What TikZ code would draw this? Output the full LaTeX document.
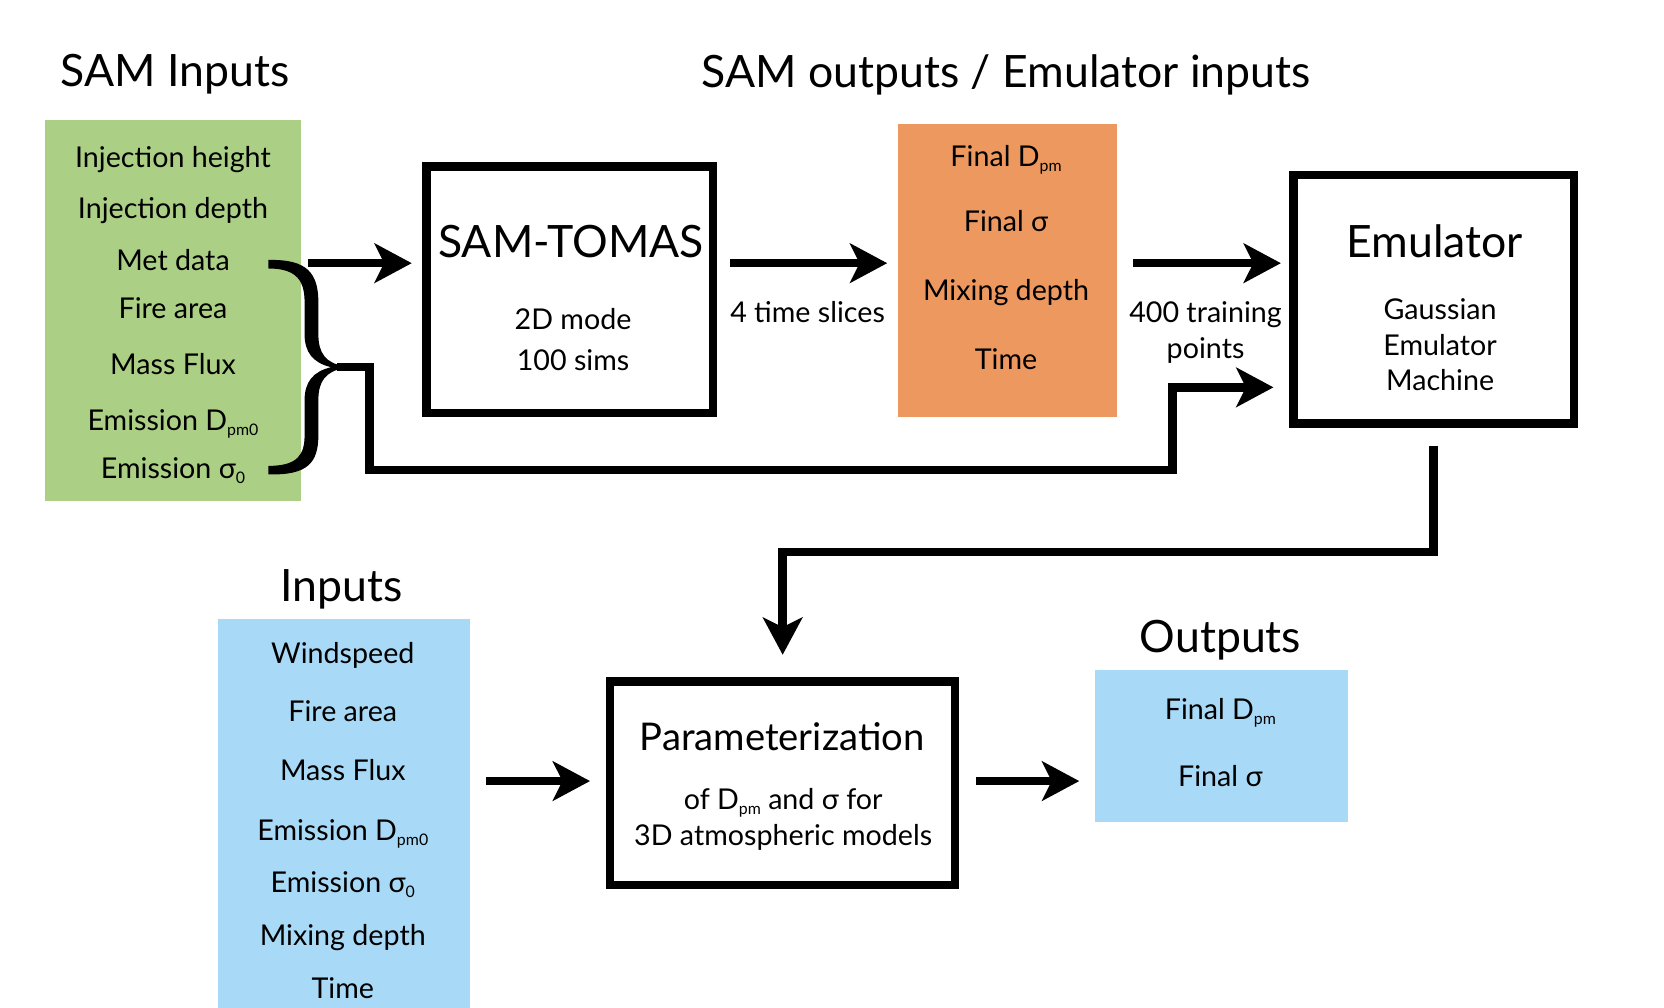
\documentclass[tikz,border=0pt]{standalone}
\usepackage{fontspec}
\setmainfont{Lato}
\usetikzlibrary{arrows.meta}
\definecolor{samgreen}{RGB}{171,207,133}
\definecolor{samorange}{RGB}{236,152,94}
\definecolor{skyblue}{RGB}{168,218,248}
\newcommand{\lowsub}[1]{\raisebox{-0.35ex}{\fontsize{15}{15}\selectfont #1}}
\begin{document}
\begin{tikzpicture}[x=1pt,y=-1pt,
  fillbox/.style={inner sep=0pt, outer sep=0pt, draw=none},
  frame/.style={draw=black, line width=8pt, inner sep=0pt, fill=white},
  item/.style={font=\fontsize{27}{30}\selectfont, anchor=mid, inner sep=0pt, yshift=-8pt},
  title/.style={font=\fontsize{42}{48}\selectfont, anchor=mid, inner sep=0pt, yshift=-12pt},
  subtitle/.style={font=\fontsize{36}{40}\selectfont, anchor=mid, inner sep=0pt, yshift=-10pt},
  flow/.style={line width=8pt, -{Stealth[length=35pt,width=37pt,inset=9pt]}},
]
\useasboundingbox[fill=white] (0,0) rectangle (1568,949);

% titles
\node[title] (tsamin) at (165,67) {SAM Inputs};
\node[title] (tsamout) at (948,68) {SAM outputs / Emulator inputs};
\node[title] (tin) at (322,552) {Inputs};
\node[title] (tout) at (1150,600) {Outputs};

% boxes
\node[fillbox, fill=samgreen, minimum width=242pt, minimum height=359pt] (green) at (163,292.5) {};
\node[frame, minimum width=270pt, minimum height=232pt] (tomas) at (537,273) {};
\node[fillbox, fill=samorange, minimum width=207pt, minimum height=276pt] (orange) at (949.5,255) {};
\node[frame, minimum width=264pt, minimum height=234pt] (emu) at (1351,282) {};
\node[fillbox, fill=skyblue, minimum width=238pt, minimum height=380pt] (inputs) at (324,773) {};
\node[frame, minimum width=325pt, minimum height=192pt] (param) at (737.5,738) {};
\node[fillbox, fill=skyblue, minimum width=238pt, minimum height=144pt] (outputs) at (1151,703) {};

% green items
\node[item] (g1) at (163,147) {Injection height};
\node[item] (g2) at (163,195) {Injection depth};
\node[item] (g3) at (163,244) {Met data};
\node[item] (g4) at (163,290) {Fire area};
\node[item] (g5) at (163,342) {Mass Flux};
\node[item] (g6) at (163,395) {Emission D\lowsub{pm0}};
\node[item] (g7) at (163,440) {Emission σ\lowsub{0}};

% SAM-TOMAS
\node[title] (tomasT) at (538,228) {SAM-TOMAS};
\node[item] (tomas1) at (540,300) {2D mode};
\node[item] (tomas2) at (540,339) {100 sims};

\node[item] (slices) at (761,293) {4 time slices};

% orange items
\node[item] (o1) at (948,146) {Final D\lowsub{pm}};
\node[item] (o2) at (948,208) {Final σ};
\node[item] (o3) at (948,273) {Mixing depth};
\node[item] (o4) at (948,338) {Time};

\node[item] (train1) at (1136,293) {400 training};
\node[item] (train2) at (1136,327) {points};

% emulator
\node[title] (emuT) at (1352,228) {Emulator};
\node[item] (emu1) at (1357,291) {Gaussian};
\node[item] (emu2) at (1357,324) {Emulator};
\node[item] (emu3) at (1357,357) {Machine};

% inputs items
\node[item] (i1) at (323,615) {Windspeed};
\node[item] (i2) at (323,669) {Fire area};
\node[item] (i3) at (323,725) {Mass Flux};
\node[item] (i4) at (323,781) {Emission D\lowsub{pm0}};
\node[item] (i5) at (323,830) {Emission σ\lowsub{0}};
\node[item] (i6) at (323,880) {Mixing depth};
\node[item] (i7) at (323,930) {Time};

% parameterization
\node[subtitle] (paramT) at (737,695) {Parameterization};
\node[item] (param1) at (738,752) {of D\lowsub{pm} and σ for};
\node[item] (param2) at (738,786) {3D atmospheric models};

% outputs
\node[item] (out1) at (1150,667) {Final D\lowsub{pm}};
\node[item] (out2) at (1150,731) {Final σ};

% brace
\fill[black] (253,245) .. controls (290,244) and (300,258) .. (300,285) -- (300,315)
  .. controls (300,333) and (307,342) .. (324,345) -- (324,347)
  .. controls (307,350) and (300,359) .. (300,377) -- (300,410)
  .. controls (300,436) and (290,448) .. (253,447) -- (253,439)
  .. controls (281,439) and (287,428) .. (287,410) -- (287,377)
  .. controls (287,360) and (295,350) .. (312,346)
  .. controls (295,342) and (287,332) .. (287,315) -- (287,285)
  .. controls (287,266) and (281,253) .. (253,253) -- cycle;
\coordinate (btip) at (318,346);

% connectors
\coordinate (a1) at (290,248);
\draw[flow, shorten >=10pt] (a1) -- (a1 -| tomas.west);
\coordinate (a2) at (688,248);
\draw[flow, shorten >=10pt] (a2) -- (a2 -| orange.west);
\coordinate (a3) at (1068,248);
\draw[flow, shorten >=8pt] (a3) -- (a3 -| emu.west);
\coordinate (b1) at (348,346);
\coordinate (b2) at (348,443);
\coordinate (b3) at (1105,443);
\coordinate (b4) at (1105,365);
\draw[flow, shorten >=15pt] (btip) -- (b1) -- (b2) -- (b3) -- (b4) -- (b4 -| emu.west);
\coordinate (elbow) at (1000,520);
\draw[flow, shorten >=21pt] ([yshift=-17pt]emu.south) |- (elbow -| param.north) -- (param.north);
\coordinate (a5) at (458,736);
\draw[flow, shorten >=15pt] (a5) -- (a5 -| param.west);
\coordinate (a6) at (920,736);
\draw[flow, shorten >=15pt] (a6) -- (a6 -| outputs.west);
\end{tikzpicture}
\end{document}
